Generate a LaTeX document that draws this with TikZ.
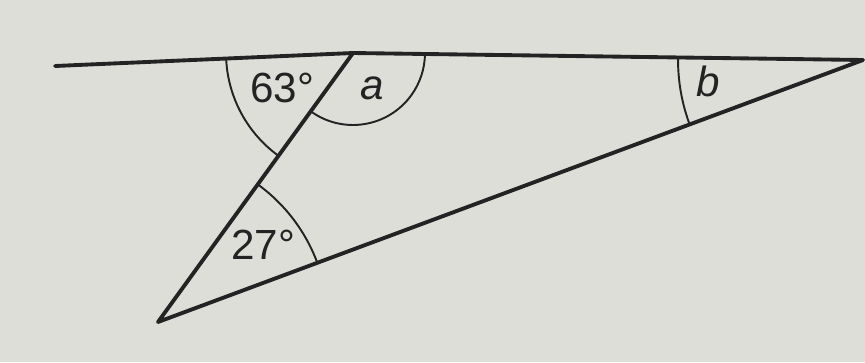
\documentclass[tikz,border=0pt]{standalone}
\usepackage{fontspec}
\setmainfont{Liberation Sans}
\usetikzlibrary{angles}
\definecolor{paper}{RGB}{222,222,217}
\definecolor{ink}{RGB}{35,35,35}

\begin{document}
\begin{tikzpicture}[
    x=0.02cm, y=0.02cm,
    edge/.style={draw=ink, line width=2.2pt, line cap=round, line join=round},
    anglearc/.style={draw=ink, line width=1.1pt},
    lbl/.style={text=ink, font=\fontsize{24}{28}\selectfont, inner sep=0pt}
  ]
  \fill[paper] (0,0) rectangle (865,-362);
  \useasboundingbox (0,0) rectangle (865,-362);

  \coordinate (L) at (55,-66);
  \coordinate (P) at (353,-53);
  \coordinate (R) at (863,-60);
  \coordinate (Q) at (158,-322);

  \draw[edge] (L) -- (P) -- (R) -- (Q) -- (P);

  \pic[anglearc, angle radius=2.54cm] {angle = L--P--Q};
  \pic[anglearc, angle radius=1.44cm] {angle = Q--P--R};
  \pic[anglearc, angle radius=3.4cm] {angle = R--Q--P};
  \pic[anglearc, angle radius=3.7cm] {angle = P--R--Q};

  \node[lbl] (ang63) at (282,-88) {63°};
  \node[lbl] (anga)  at (372,-88) {\itshape a};
  \node[lbl] (angb)  at (708,-81) {\itshape b};
  \node[lbl] (ang27) at (263,-245) {27°};

\end{tikzpicture}
\end{document}
